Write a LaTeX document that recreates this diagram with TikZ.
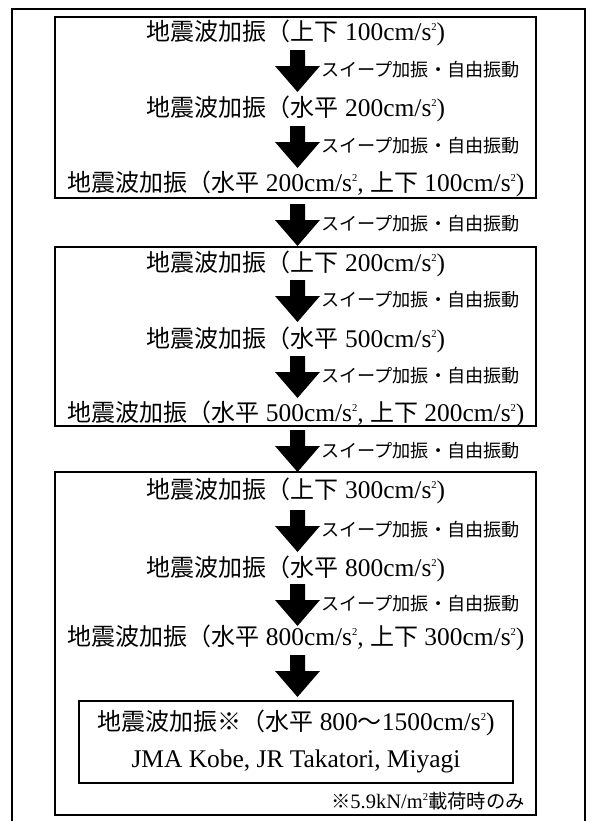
\documentclass[tikz,border=0pt]{standalone}
\usepackage{fontspec}
\setmainfont{Liberation Serif}[Scale=1.06]
\newfontfamily\jp{Noto Sans CJK JP}
\usetikzlibrary{calc}
\newcommand\J[1]{{\jp #1}}
\newcommand\sq{\raisebox{0.85ex}{\fontsize{7.5}{7.5}\selectfont 2}}
\tikzset{
  x=0.75pt, y=-0.75pt,
  main/.style={inner sep=0pt, font=\fontsize{18}{20}\selectfont},
  lbl/.style={inner sep=0pt, anchor=west, font=\fontsize{13.6}{15}\selectfont},
  foot/.style={inner sep=0pt, anchor=east, font=\fontsize{14.5}{15}\selectfont},
  boxline/.style={line width=0.9pt},
  outerline/.style={line width=1.6pt}
}
% block arrow from named start coordinate #1 to named tip coordinate #2 (42 px tall)
\newcommand\barrow[2]{\fill (#1) ++(-7.5,0) -- ++(15,0) -- ++(0,16) -- ++(15,0) -- (#2) -- ++(-22.5,-26) -- ++(15,0) -- cycle;}
\begin{document}
\begin{tikzpicture}
\useasboundingbox (0,0) rectangle (593,821);
\draw[outerline] (12,9) rectangle (585,824);

% ---------- box 1
\draw[boxline] (55,17) rectangle (536,198);
\node[main] (r11) at (296,33) {\J{地震波加振（上下} 100cm/s\sq)};
\node[main] (r12) at (296,109) {\J{地震波加振（水平} 200cm/s\sq)};
\node[main] (r13) at (296,184) {\J{地震波加振（水平} 200cm/s\sq, \J{上下} 100cm/s\sq)};
\coordinate (a1s) at (297.5,50);  \coordinate (a1e) at (297.5,92);
\coordinate (a2s) at (297.5,126); \coordinate (a2e) at (297.5,168);
\barrow{a1s}{a1e}\barrow{a2s}{a2e}
\node[lbl] (l1) at (321,70) {\J{スイープ加振・自由振動}};
\node[lbl] (l2) at (321,146) {\J{スイープ加振・自由振動}};

% ---------- between 1 and 2
\coordinate (b1s) at (297.5,204); \coordinate (b1e) at (297.5,246);
\barrow{b1s}{b1e}
\node[lbl] (lb1) at (321,224) {\J{スイープ加振・自由振動}};

% ---------- box 2
\draw[boxline] (55,247) rectangle (536,426);
\node[main] (r21) at (296,264) {\J{地震波加振（上下} 200cm/s\sq)};
\node[main] (r22) at (296,340) {\J{地震波加振（水平} 500cm/s\sq)};
\node[main] (r23) at (296,414) {\J{地震波加振（水平} 500cm/s\sq, \J{上下} 200cm/s\sq)};
\coordinate (a3s) at (297.5,280); \coordinate (a3e) at (297.5,322);
\coordinate (a4s) at (297.5,356); \coordinate (a4e) at (297.5,398);
\barrow{a3s}{a3e}\barrow{a4s}{a4e}
\node[lbl] (l3) at (321,300) {\J{スイープ加振・自由振動}};
\node[lbl] (l4) at (321,376) {\J{スイープ加振・自由振動}};

% ---------- between 2 and 3
\coordinate (b2s) at (297.5,430); \coordinate (b2e) at (297.5,472);
\barrow{b2s}{b2e}
\node[lbl] (lb2) at (321,451) {\J{スイープ加振・自由振動}};

% ---------- box 3
\draw[boxline] (55,472) rectangle (536,815);
\node[main] (r31) at (296,491) {\J{地震波加振（上下} 300cm/s\sq)};
\node[main] (r32) at (296,569) {\J{地震波加振（水平} 800cm/s\sq)};
\node[main] (r33) at (296,638) {\J{地震波加振（水平} 800cm/s\sq, \J{上下} 300cm/s\sq)};
\coordinate (a5s) at (297.5,510); \coordinate (a5e) at (297.5,552);
\coordinate (a6s) at (297.5,584); \coordinate (a6e) at (297.5,626);
\coordinate (a7s) at (297.5,655); \coordinate (a7e) at (297.5,697);
\barrow{a5s}{a5e}\barrow{a6s}{a6e}\barrow{a7s}{a7e}
\node[lbl] (l5) at (321,530) {\J{スイープ加振・自由振動}};
\node[lbl] (l6) at (321,604) {\J{スイープ加振・自由振動}};

% inner box
\draw[boxline] (79,701) rectangle (513,783);
\node[main] (i1) at (296,723) {\J{地震波加振※（水平} 800\J{～}1500cm/s\sq)};
\node[main] (i2) at (296,761) {JMA Kobe, JR Takatori, Miyagi};
\node[foot] (fn) at (525,801) {\J{※}5.9kN/m\sq\J{載荷時のみ}};
\end{tikzpicture}
\end{document}
